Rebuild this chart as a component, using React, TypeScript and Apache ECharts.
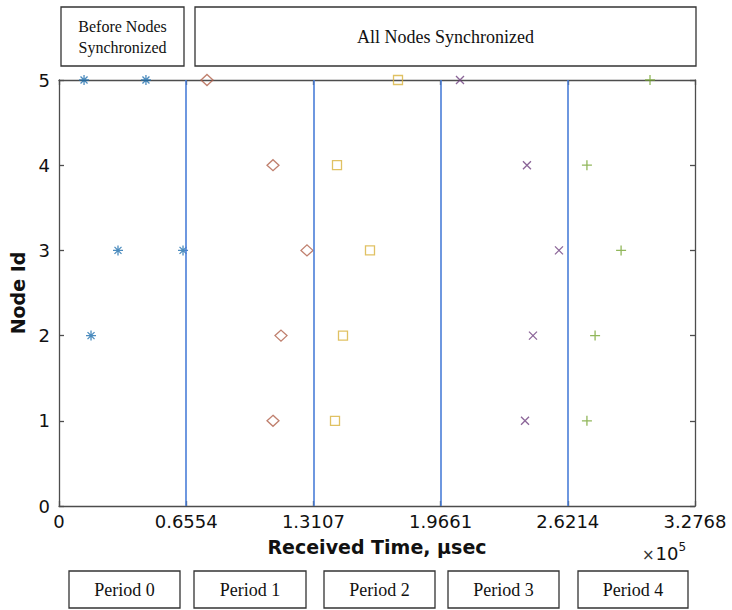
import React, { useEffect, useRef } from "react";
import * as echarts from "echarts";

// Received time in µsec; node ids
const period0Time = [12900, 44800, 30400, 63900, 16500];
const period0Node = [5, 5, 3, 3, 2];
const period1Time = [76250, 110260, 127770, 114380, 110260];
const period1Node = [5, 4, 3, 2, 1];
const period2Time = [174660, 143230, 160230, 146320, 142200];
const period2Node = [5, 4, 3, 2, 1];
const period3Time = [206600, 241100, 257600, 244200, 240100];
const period3Node = [5, 4, 3, 2, 1];
const period4Time = [304500, 272000, 289600, 276200, 272000];
const period4Node = [5, 4, 3, 2, 1];

const periodBoundaries = [65536, 131072, 196608, 262144];
const xMin = 0;
const xMax = 327680;
const xInterval = 65536;
const yMin = 0;
const yMax = 5;

const periodLabels = ["Period 0", "Period 1", "Period 2", "Period 3", "Period 4"];
const topLabels = ["Before Nodes\nSynchronized", "All Nodes Synchronized"];

const ASTERISK = "path://M5,0L5,10M0,5L10,5M1.5,1.5L8.5,8.5M8.5,1.5L1.5,8.5";
const CROSS = "path://M0,0L10,10M10,0L0,10";
const PLUS = "path://M5,0L5,10M0,5L10,5";

const zip = (xs: number[], ys: number[]) => xs.map((x, i) => [x, ys[i]]);

export default function App() {
  const ref = useRef<HTMLDivElement>(null);
  useEffect(() => {
    document.body.style.margin = "0";
    if (!ref.current) return;
    const chart = echarts.init(ref.current, null, { renderer: "svg" });
    const axisFont = "DejaVu Sans, Verdana, sans-serif";
    const serif = "Liberation Serif, Times New Roman, serif";

    const mkSeries = (name: string, data: number[][], symbol: string, color: string, size: number | number[], bw: number) => ({
      name,
      type: "scatter",
      data,
      symbol,
      symbolSize: size,
      clip: false,
      itemStyle: { color: "rgba(0,0,0,0)", borderColor: color, borderWidth: bw },
      emphasis: { disabled: true },
    });

    const bottomBoxes = [
      [69, 111],
      [194, 112],
      [324, 111],
      [448, 111],
      [578, 110],
    ];

    const graphic: any[] = [];
    graphic.push({
      type: "group",
      children: [
        { type: "rect", shape: { x: 61, y: 7, width: 123, height: 59 }, style: { fill: "#fff", stroke: "#333", lineWidth: 1.3 } },
        {
          type: "text",
          x: 122.5,
          y: 36.5,
          style: { text: topLabels[0], font: `16px ${serif}`, fill: "#111", align: "center", verticalAlign: "middle", lineHeight: 21 },
        },
        { type: "rect", shape: { x: 195, y: 7, width: 501, height: 59 }, style: { fill: "#fff", stroke: "#333", lineWidth: 1.3 } },
        {
          type: "text",
          x: 445.5,
          y: 37,
          style: { text: topLabels[1], font: `18px ${serif}`, fill: "#111", align: "center", verticalAlign: "middle" },
        },
      ],
    });
    periodLabels.forEach((lab, i) => {
      const [bx, bw] = bottomBoxes[i];
      graphic.push({
        type: "group",
        children: [
          { type: "rect", shape: { x: bx, y: 571, width: bw, height: 37 }, style: { fill: "#fff", stroke: "#333", lineWidth: 1.3 } },
          {
            type: "text",
            x: bx + bw / 2,
            y: 590,
            style: { text: lab, font: `18px ${serif}`, fill: "#111", align: "center", verticalAlign: "middle" },
          },
        ],
      });
    });
    graphic.push({
      type: "text",
      x: 642,
      y: 541,
      style: {
        text: "{a|×}{b|10}{c|5}",
        rich: {
          a: { fontSize: 15, fontFamily: axisFont, fill: "#333", padding: [4, 1, 0, 0] },
          b: { fontSize: 18, fontFamily: axisFont, fill: "#111" },
          c: { fontSize: 12, fontFamily: axisFont, fill: "#111", padding: [0, 0, 12, 0] },
        },
        verticalAlign: "top",
      },
    });

    const axisLineStyle = { color: "#4d4d4d", width: 1.3 };
    const tickStyle = { color: "#4d4d4d", width: 1.3 };

    chart.setOption({
      animation: false,
      grid: { left: 59, top: 80, width: 636, height: 426, containLabel: false },
      xAxis: [
        {
          type: "value",
          min: xMin,
          max: xMax,
          interval: xInterval,
          position: "bottom",
          splitLine: { show: false },
          axisLine: { show: true, onZero: false, lineStyle: axisLineStyle },
          axisTick: { show: true, inside: true, length: 5, lineStyle: tickStyle },
          axisLabel: {
            fontSize: 18,
            fontFamily: axisFont,
            color: "#111",
            margin: 6,
            formatter: (v: number) => (v === 0 ? "0" : (v / 1e5).toFixed(4)),
          },
          name: "Received Time, µsec",
          nameLocation: "middle",
          nameGap: 31,
          nameTextStyle: { fontSize: 19, fontWeight: "bold", fontFamily: axisFont, color: "#111" },
        },
        {
          type: "value",
          min: xMin,
          max: xMax,
          interval: xInterval,
          position: "top",
          splitLine: { show: false },
          axisLine: { show: true, onZero: false, lineStyle: axisLineStyle },
          axisTick: { show: true, inside: true, length: 5, lineStyle: tickStyle },
          axisLabel: { show: false },
        },
      ],
      yAxis: [
        {
          type: "value",
          min: yMin,
          max: yMax,
          interval: 1,
          position: "left",
          splitLine: { show: false },
          axisLine: { show: true, onZero: false, lineStyle: axisLineStyle },
          axisTick: { show: true, inside: true, length: 5, lineStyle: tickStyle },
          axisLabel: { fontSize: 18, fontFamily: axisFont, color: "#111", margin: 9 },
          name: "Node Id",
          nameLocation: "middle",
          nameRotate: 90,
          nameGap: 31,
          nameTextStyle: { fontSize: 19, fontWeight: "bold", fontFamily: axisFont, color: "#111" },
        },
        {
          type: "value",
          min: yMin,
          max: yMax,
          interval: 1,
          position: "right",
          splitLine: { show: false },
          axisLine: { show: true, onZero: false, lineStyle: axisLineStyle },
          axisTick: { show: true, inside: true, length: 5, lineStyle: tickStyle },
          axisLabel: { show: false },
        },
      ],
      graphic,
      series: [
        {
          type: "scatter",
          data: [],
          silent: true,
          markLine: {
            silent: true,
            symbol: "none",
            label: { show: false },
            lineStyle: { color: "#4a7ed8", width: 1.6, type: "solid" },
            data: periodBoundaries.map((x) => ({ xAxis: x })),
          },
        },
        mkSeries("Period 0", zip(period0Time, period0Node), ASTERISK, "#1f6fae", 10, 1.3),
        mkSeries("Period 1", zip(period1Time, period1Node), "diamond", "#b0604a", [12, 11], 1.3),
        mkSeries("Period 2", zip(period2Time, period2Node), "rect", "#d8b23c", 9, 1.3),
        mkSeries("Period 3", zip(period3Time, period3Node), CROSS, "#6e3f7e", 8, 1.3),
        mkSeries("Period 4", zip(period4Time, period4Node), PLUS, "#76a532", 10, 1.3),
      ],
    });
    return () => chart.dispose();
  }, []);
  return <div ref={ref} style={{ width: 732, height: 610 }} />;
}
